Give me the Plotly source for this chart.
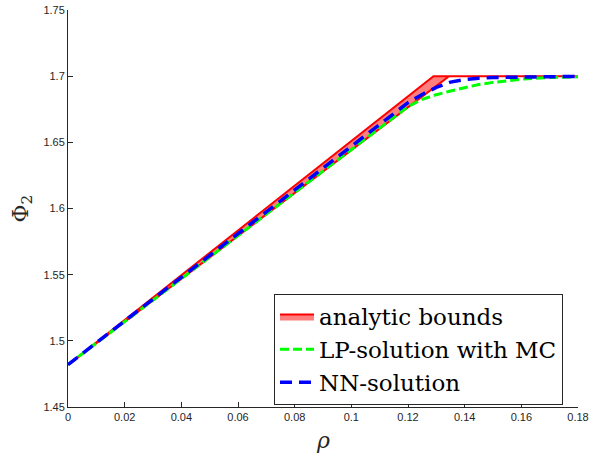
import plotly.graph_objects as go

# Analytic bounds (upper and lower bound lines)
upper_x = [0.0, 0.129, 0.18]
upper_y = [1.482, 1.700, 1.700]
lower_x = [0.0, 0.1345, 0.18]
lower_y = [1.482, 1.700, 1.700]

# LP-solution with MC
lp_x = [0.0, 0.02, 0.04, 0.06, 0.08, 0.10, 0.11, 0.12, 0.125, 0.13, 0.135, 0.14,
        0.145, 0.15, 0.155, 0.16, 0.17, 0.18]
lp_y = [1.482, 1.5145, 1.547, 1.5795, 1.612, 1.6445, 1.6608, 1.677, 1.6825, 1.686,
        1.6888, 1.6915, 1.6937, 1.6953, 1.6966, 1.6977, 1.6990, 1.6995]

# NN-solution
nn_x = [0.0, 0.02, 0.04, 0.06, 0.08, 0.10, 0.12, 0.125, 0.13, 0.135, 0.14, 0.145,
        0.15, 0.16, 0.17, 0.18]
nn_y = [1.482, 1.515, 1.548, 1.581, 1.614, 1.647, 1.680, 1.6862, 1.6915, 1.6955,
        1.6975, 1.6985, 1.699, 1.6993, 1.6996, 1.6998]

x_ticks = [0, 0.02, 0.04, 0.06, 0.08, 0.1, 0.12, 0.14, 0.16, 0.18]
x_tick_labels = ["0", "0.02", "0.04", "0.06", "0.08", "0.1", "0.12", "0.14", "0.16", "0.18"]
y_ticks = [1.45, 1.5, 1.55, 1.6, 1.65, 1.7, 1.75]
y_tick_labels = ["1.45", "1.5", "1.55", "1.6", "1.65", "1.7", "1.75"]

x_title = "<i>ρ</i>"
y_title = "Φ<sub>2</sub>"

band_x = upper_x + lower_x[::-1]
band_y = upper_y + lower_y[::-1]

fig = go.Figure()
fig.add_trace(go.Scatter(
    x=band_x, y=band_y, mode="lines", fill="toself",
    fillcolor="rgba(255,0,0,0.5)", line=dict(color="#ff0000", width=2),
    name="analytic bounds"))
fig.add_trace(go.Scatter(
    x=lp_x, y=lp_y, mode="lines", line=dict(color="#00ff00", width=3, dash="9px,4px"),
    name="LP-solution with MC"))
fig.add_trace(go.Scatter(
    x=nn_x, y=nn_y, mode="lines", line=dict(color="#0000ff", width=3.5, dash="12px,7px"),
    name="NN-solution"))

axis_col = "#262626"
fig.update_layout(
    width=597, height=457,
    margin=dict(l=68, r=19, t=10, b=50, autoexpand=False),
    paper_bgcolor="white", plot_bgcolor="white",
    showlegend=True,
    legend=dict(x=0.9706, y=0.1448, xanchor="right", yanchor="middle",
                bordercolor=axis_col, borderwidth=1, bgcolor="white",
                font=dict(family="DejaVu Serif", size=23, color="black"),
                itemwidth=34),
    xaxis=dict(range=[0, 0.18], tickvals=x_ticks, ticktext=x_tick_labels,
               showline=True, linecolor=axis_col, linewidth=1, ticks="inside",
               ticklen=5, tickcolor=axis_col, showgrid=False, zeroline=False,
               automargin=False,
               tickfont=dict(family="Liberation Sans", size=11, color=axis_col)),
    yaxis=dict(range=[1.45, 1.75], tickvals=y_ticks, ticktext=y_tick_labels,
               showline=True, linecolor=axis_col, linewidth=1, ticks="inside",
               ticklen=5, tickcolor=axis_col, showgrid=False, zeroline=False,
               automargin=False,
               tickfont=dict(family="Liberation Sans", size=11, color=axis_col)),
    annotations=[
        dict(text=x_title, xref="paper", yref="paper", x=0.5, y=0,
             xanchor="center", yanchor="middle", yshift=-33, showarrow=False,
             font=dict(family="DejaVu Serif", size=22, color=axis_col)),
        dict(text=y_title, xref="paper", yref="paper", x=0, y=0.5,
             xanchor="center", yanchor="middle", xshift=-46, textangle=-90,
             showarrow=False,
             font=dict(family="DejaVu Serif", size=22, color=axis_col)),
    ],
)

# remove the default 8px page margin so the figure sits at the window's top-left
fig.write_html("out.html", config={"displayModeBar": False},
               post_script="document.body.style.margin='0px';")
